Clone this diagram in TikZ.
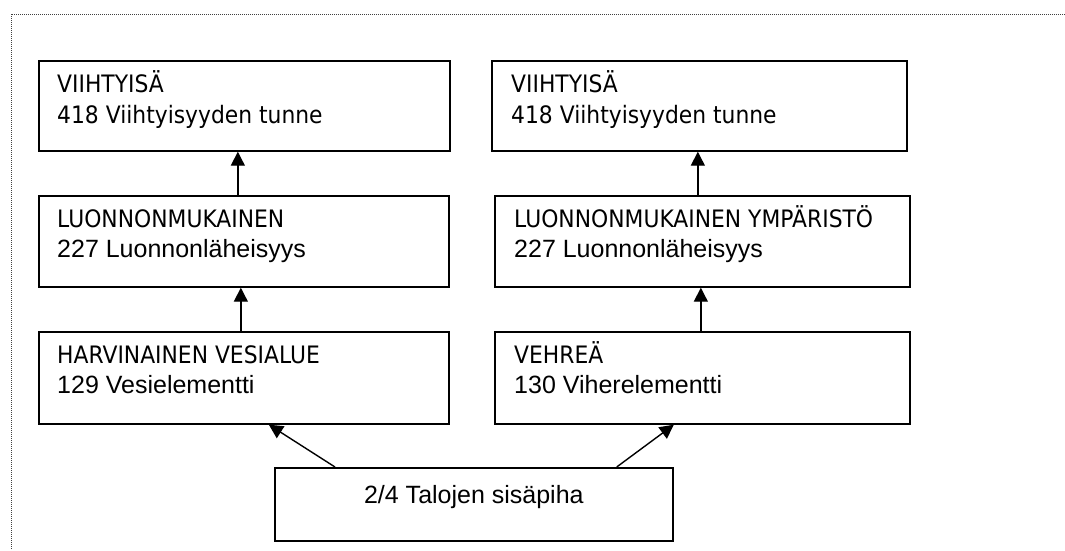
\documentclass[tikz,border=0pt]{standalone}
\usepackage{fontspec}
\newfontfamily\tahfont[FakeStretch=0.91]{DejaVu Sans}
\newfontfamily\arialfont{Liberation Sans}
\usetikzlibrary{arrows.meta,calc}
\tikzset{
  box/.style={draw=black, line width=1.7pt, anchor=north west, inner sep=0pt},
  headtext/.style={font=\tahfont\fontsize{24}{28}\selectfont, inner sep=0pt, anchor=base west},
  codetext/.style={font=\arialfont\fontsize{25}{29}\selectfont, inner sep=0pt, anchor=base west},
  arr/.style={line width=1.4pt, -{Triangle[length=14pt,width=14pt]}},
  frame/.style={draw=black!75, line width=1pt, dash pattern=on 1pt off 1pt}
}
\begin{document}
\begin{tikzpicture}[x=1pt,y=-1pt]
\useasboundingbox (0,0) rectangle (1065,550);
% dotted frame
\coordinate (fr) at (1065,14);
\coordinate (fc) at (11,14);
\coordinate (fb) at (11,550);
\draw[frame] (fr) -- (fc) -- (fb);

% boxes
\node[box, minimum width=411pt, minimum height=90pt] (L1) at (38,60) {};
\node[box, minimum width=415pt, minimum height=90pt] (R1) at (491,60) {};
\node[box, minimum width=410pt, minimum height=91pt] (L2) at (38,195) {};
\node[box, minimum width=415pt, minimum height=91pt] (R2) at (494,195) {};
\node[box, minimum width=410pt, minimum height=92pt] (L3) at (38,331) {};
\node[box, minimum width=415pt, minimum height=92pt] (R3) at (494,331) {};
\node[box, minimum width=398pt, minimum height=73pt] (B) at (274,467) {};

% texts
\node[headtext] (L1a) at ($(L1.north west)+(19,32.5)$) {VIIHTYISÄ};
\node[headtext] (L1b) at ($(L1.north west)+(19,63)$) {418 Viihtyisyyden tunne};
\node[headtext] (R1a) at ($(R1.north west)+(20,32.5)$) {VIIHTYISÄ};
\node[headtext] (R1b) at ($(R1.north west)+(20,63)$) {418 Viihtyisyyden tunne};

\node[headtext] (L2a) at ($(L2.north west)+(19,32)$) {LUONNONMUKAINEN};
\node[codetext] (L2b) at ($(L2.north west)+(19,62.5)$) {227 Luonnonläheisyys};
\node[headtext] (R2a) at ($(R2.north west)+(20,32)$) {LUONNONMUKAINEN YMPÄRISTÖ};
\node[codetext] (R2b) at ($(R2.north west)+(20,62.5)$) {227 Luonnonläheisyys};

\node[headtext] (L3a) at ($(L3.north west)+(19,32.5)$) {HARVINAINEN VESIALUE};
\node[codetext] (L3b) at ($(L3.north west)+(19,62.5)$) {129 Vesielementti};
\node[headtext] (R3a) at ($(R3.north west)+(20,32.5)$) {VEHREÄ};
\node[codetext] (R3b) at ($(R3.north west)+(20,62.5)$) {130 Viherelementti};

\node[codetext, anchor=base] (Bt) at ($(B.north)+(0,36)$) {2/4 Talojen sisäpiha};

% connectors
\draw[arr] ([xshift=-6pt]L2.north) -- ([xshift=-6pt]L2.north |- L1.south);
\draw[arr] ([xshift=-3pt]L3.north) -- ([xshift=-3pt]L3.north |- L2.south);
\draw[arr] ([xshift=-4.5pt]R2.north) -- ([xshift=-4.5pt]R2.north |- R1.south);
\draw[arr] ([xshift=-1.5pt]R3.north) -- ([xshift=-1.5pt]R3.north |- R2.south);
\draw[arr] ([xshift=61pt]B.north west) -- ([xshift=25pt]L3.south);
\draw[arr] ([xshift=-57pt]B.north east) -- ([xshift=-28.5pt]R3.south);
\end{tikzpicture}
\end{document}
